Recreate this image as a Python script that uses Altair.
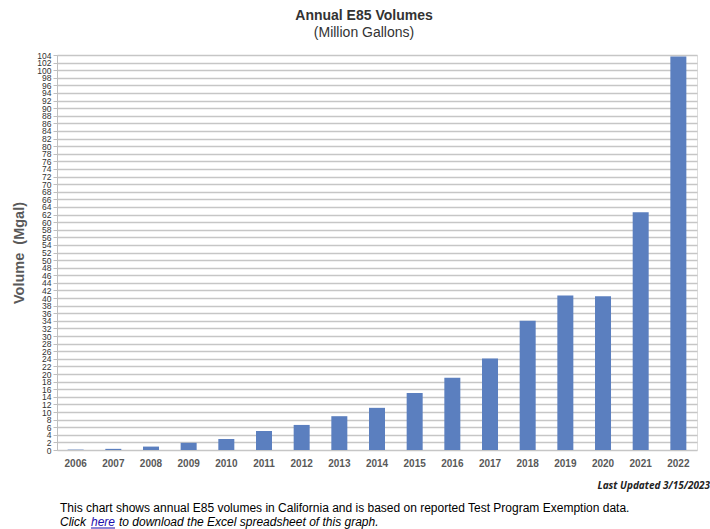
import altair as alt
import pandas as pd

years = ["2006", "2007", "2008", "2009", "2010", "2011", "2012", "2013", "2014",
         "2015", "2016", "2017", "2018", "2019", "2020", "2021", "2022"]
volumes = [0.1, 0.3, 0.9, 1.9, 2.9, 5.0, 6.6, 8.9, 11.1,
           15.0, 19.0, 24.1, 34.0, 40.7, 40.5, 62.6, 103.6]
y_ticks = list(range(0, 105, 2))

df = pd.DataFrame({"Year": years, "Volume": volumes})

W, H = 640, 395

bars = alt.Chart(df).mark_bar(color="#5b7fbf", size=16).encode(
    x=alt.X("Year:N", sort=years,
            scale=alt.Scale(paddingInner=0.57, paddingOuter=0.28),
            axis=alt.Axis(title=None, labelAngle=0, ticks=False, domain=False,
                          labelFont="Liberation Sans", labelFontWeight="bold",
                          labelFontSize=10, labelColor="#595959", labelPadding=8)),
    y=alt.Y("Volume:Q", scale=alt.Scale(domain=[0, 104], nice=False),
            axis=alt.Axis(title="Volume\u00a0\u00a0(Mgal)", values=y_ticks,
                          labelFont="Liberation Sans", labelFontSize=8.5,
                          labelColor="#333333", labelPadding=2,
                          tickColor="#bfbfbf", tickSize=4, tickWidth=1,
                          domainColor="#bfbfbf", domainWidth=1,
                          gridColor="#c6c6c6", gridWidth=1.3,
                          titleFont="Liberation Sans", titleFontSize=14.5,
                          titleFontWeight="bold", titleColor="#595959",
                          titlePadding=10, labelOverlap=False)),
)

def txt(s, x, y, size=12, style="normal", weight="normal", color="#000000", align="left"):
    return alt.Chart(alt.Data(values=[{}])).mark_text(
        text=s, align=align, baseline="middle", font="Liberation Sans",
        fontSize=size, fontStyle=style, fontWeight=weight, color=color,
    ).encode(x=alt.value(x), y=alt.value(y))

updated = alt.Chart(alt.Data(values=[{}])).mark_text(
    text="Last Updated 3/15/2023", align="right", baseline="middle",
    font="Open Sans", fontSize=10, fontStyle="italic", fontWeight="bold", color="#222222",
).encode(x=alt.value(653), y=alt.value(431))

line1 = txt("This chart shows annual E85 volumes in California and is based on reported Test Program Exemption data.", 3, 453)
click = txt("Click", 3, 467, style="italic")
here = txt("here", 34, 467, style="italic", color="#1a0dab")
rest = txt("to download the Excel spreadsheet of this graph.", 62, 467, style="italic")
underline = alt.Chart(alt.Data(values=[{}])).mark_rule(color="#1a0dab", strokeWidth=1).encode(
    x=alt.value(34), x2=alt.value(58), y=alt.value(473))

chart = alt.layer(bars, updated, line1, click, here, rest, underline).properties(
    width=W, height=H,
    title=alt.TitleParams(
        text="Annual E85 Volumes", subtitle="(Million Gallons)",
        font="Liberation Sans", fontSize=14, fontWeight="bold", color="#333333",
        subtitleFont="Liberation Sans", subtitleFontSize=14, subtitleColor="#333333",
        subtitlePadding=3, anchor="middle", dx=-13, offset=11,
    ),
    autosize=alt.AutoSizeParams(type="none"),
    padding={"left": 57, "top": 55, "right": 13, "bottom": 79},
).configure_view(stroke=None).configure(background="white")

chart.save("out.html", embed_options={"renderer": "svg", "actions": False})
